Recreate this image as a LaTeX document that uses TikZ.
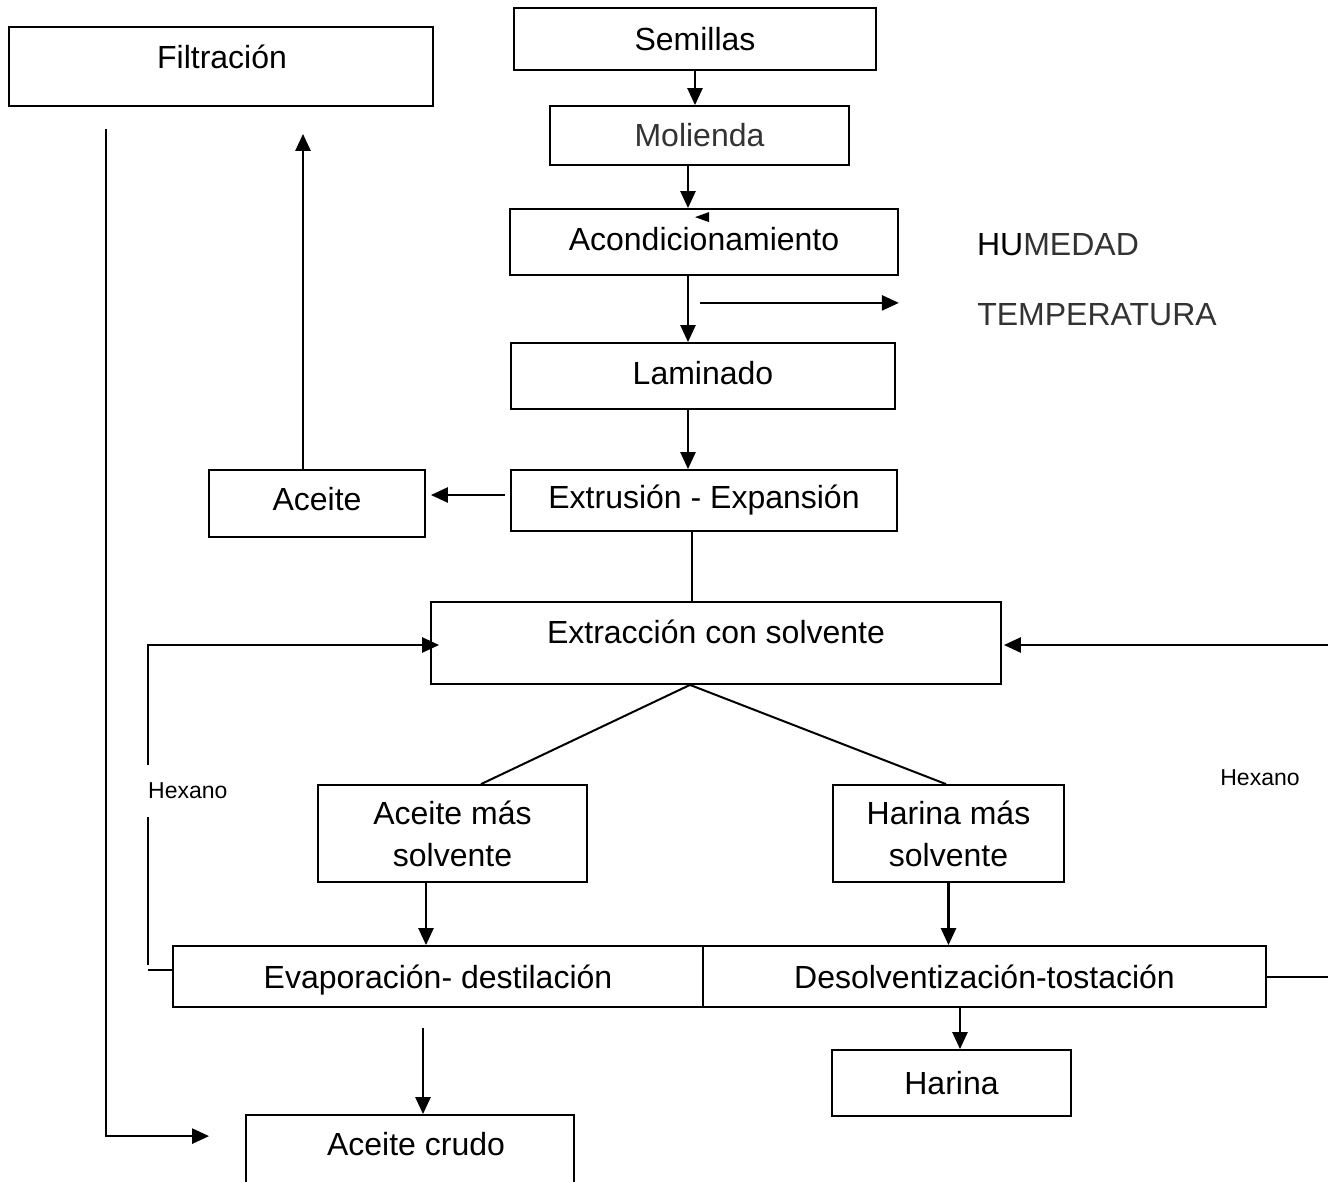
\documentclass[tikz,border=0pt]{standalone}
\usepackage{fontspec}
\setmainfont{Liberation Sans}
\usetikzlibrary{arrows.meta,calc}
\definecolor{soft}{HTML}{333333}
\begin{document}
\begin{tikzpicture}[x=1pt,y=-1pt,
  box/.style={draw, line width=1.8pt, inner sep=0pt, align=center,
              font=\fontsize{32}{42}\selectfont},
  txt/.style={inner sep=0pt, align=center, font=\fontsize{32}{42}\selectfont},
  small/.style={inner sep=0pt, font=\fontsize{23}{27}\selectfont},
  arr/.style={line width=2.5pt, -{Triangle[length=17pt,width=15pt]}},
  plain/.style={line width=2pt}]
\clip (0,0) rectangle (1328,1181);
\fill[white] (0,0) rectangle (1328,1181);

% process boxes
\node[box, minimum width=424pt, minimum height=79pt] (fil) at (221,66.5) {};
\node[txt] (filT) at (222,57) {Filtración};
\node[box, minimum width=362pt, minimum height=62pt] (sem) at (695,39) {Semillas};
\node[box, minimum width=299pt, minimum height=59pt, text=soft] (mol) at (699.5,135.5) {Molienda};
\node[box, minimum width=388pt, minimum height=66pt, text depth=6pt] (aco) at (704,242) {Acondicionamiento};
\node[box, minimum width=384pt, minimum height=66pt, text depth=6pt] (lam) at (703,376) {Laminado};
\node[box, minimum width=386pt, minimum height=61pt] (ext) at (704,500.5) {Extrusión - Expansión};
\node[box, minimum width=216pt, minimum height=67pt, text depth=10pt] (ace) at (317,503.5) {Aceite};
\node[box, minimum width=570pt, minimum height=82pt] (extr) at (716,643) {};
\node[txt] (extrT) at (716,632) {Extracción con solvente};
\node[box, minimum width=269pt, minimum height=97pt] (ams) at (452.5,833.5) {Aceite más\\solvente};
\node[box, minimum width=231pt, minimum height=97pt] (hms) at (948.5,833.5) {Harina más\\solvente};
\node[box, minimum width=530pt, minimum height=61pt, text depth=0pt] (eva) at (438,976.5) {Evaporación- destilación};
\node[box, minimum width=563pt, minimum height=61pt] (des) at (984.5,976.5) {Desolventización-tostación};
\node[box, minimum width=239pt, minimum height=66pt] (har) at (951.5,1083) {Harina};
\node[box, minimum width=328pt, minimum height=100pt] (cru) at (410,1165) {};
\node[txt] (cruT) at (416,1144) {Aceite crudo};

% side labels
\node[txt] (hum) at (1058,245) {HU\textcolor{soft}{MEDAD}};
\node[txt, text=soft] (tem) at (1097,315) {TEMPERATURA};
\node[small, anchor=west, minimum height=52pt] (hexL) at (148,791) {Hexano};
\node[small] (hexR) at (1260,778) {Hexano};

% main line
\draw[arr] (sem.south) -- (sem.south |- mol.north);
\draw[arr] ([xshift=-11.5pt]mol.south) -- ([xshift=-11.5pt]mol.south |- aco.north);
\fill ($(aco.north)+(-9,9)$) -- ++(14,-5) -- ++(0,10) -- cycle;
\draw[arr] ([xshift=-16pt]aco.south) -- ([xshift=-16pt]aco.south |- lam.north);
\coordinate (tA) at ($(aco.south)+(-4,27)$);
\draw[arr] (tA) -- (tA -| aco.east);
\draw[arr] ([xshift=-15pt]lam.south) -- ([xshift=-15pt]lam.south |- ext.north);

% oil branch
\coordinate (e0) at ($(ext.west)+(-5,-5.5)$);
\draw[arr] (e0) -- ($(e0 -| ace.east)+(5,0)$);
\coordinate (p1) at ($(ace.north)+(-14,0)$);
\draw[arr] (p1) -- ($(p1 |- fil.south)+(0,27)$);
\coordinate (f0) at ($(fil.south west)+(98,22)$);
\coordinate (f1) at ($(f0 |- cru.north)+(0,22)$);
\draw[arr] (f0) -- (f1) -- ($(f1 -| cru.west)+(-36,0)$);

% extraction
\draw[plain] ([xshift=-12pt]ext.south) -- ([xshift=-12pt]ext.south |- extr.north);
\coordinate (v) at ($(extr.south)+(-26,0)$);
\draw[plain] ($(ams.north)+(28.5,0)$) -- (v) -- ($(hms.north)+(-2.5,0)$);
\draw[arr] ([xshift=-26.5pt]ams.south) -- ([xshift=-26.5pt]ams.south |- eva.north);
\draw[arr] (hms.south) -- (hms.south |- des.north);
\coordinate (c0) at ($(eva.south)+(-15,20)$);
\draw[arr] (c0) -- (c0 |- cru.north);
\draw[arr] ([xshift=-24.5pt]des.south) -- ([xshift=-24.5pt]des.south |- har.north);

% hexane recycle, left
\coordinate (lt) at ($(extr.west)+(9,2)$);
\draw[arr] (hexL.north west) |- (lt);
\draw[plain] (hexL.south west) -- ($(hexL.south west |- eva.west)+(0,-12)$);
\draw[plain] ($(eva.west)+(0,-7)$) -- ($(eva.west -| hexL.west)+(0,-7)$);

% hexane recycle, right
\coordinate (rIn) at (1340,645);
\draw[arr] (rIn) -- ($(rIn -| extr.east)+(2,0)$);
\draw[plain] (des.east) -- (des.east -| rIn);
\end{tikzpicture}
\end{document}
